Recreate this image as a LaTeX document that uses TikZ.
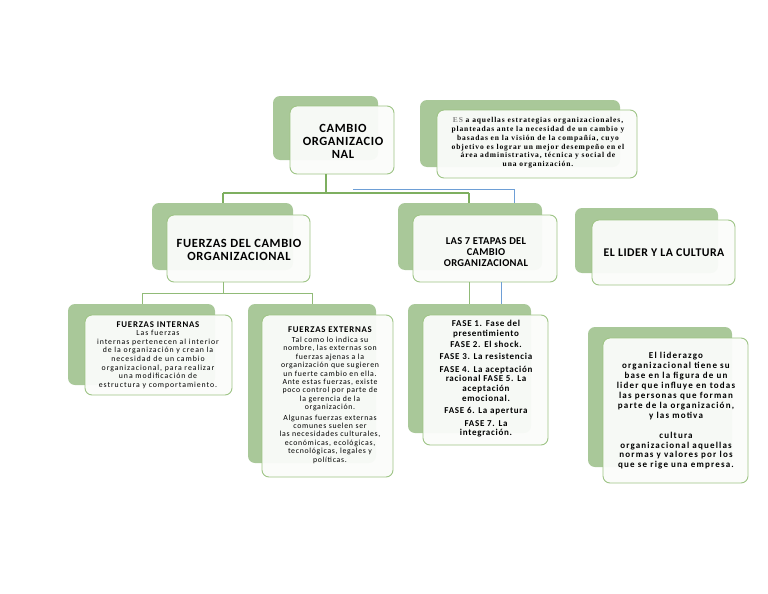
\documentclass[tikz,border=0pt]{standalone}
\usepackage{fontspec}
\setmainfont{Carlito}
\newfontfamily\serifbold{Liberation Serif}
\definecolor{backgreen}{HTML}{A9C899}
\definecolor{edgegreen}{HTML}{9EC485}
\definecolor{linegreen}{HTML}{7EAF60}
\definecolor{lineblue}{HTML}{6E9FD6}
\definecolor{frontfill}{HTML}{FBFCFA}
\newcommand{\ls}[1]{\addfontfeature{LetterSpace=#1}}
\tikzset{
  backbox/.style={fill=backgreen, draw=none, rounded corners=7pt, inner sep=0pt},
  frontbox/.style={fill=frontfill, fill opacity=0.95, text opacity=1, draw=edgegreen, line width=0.9pt, rounded corners=7pt, inner sep=0pt, align=center},
  gline/.style={draw=linegreen, line width=1.6pt},
  thinline/.style={draw=linegreen!85, line width=1pt},
  bline/.style={draw=lineblue, line width=0.8pt},
}
\begin{document}
\begin{tikzpicture}[x=1pt,y=-1pt]
\useasboundingbox (0,0) rectangle (768,594);
\fill[white] (0,0) rectangle (768,594);

% back boxes
\node[backbox, minimum width=105pt, minimum height=64pt] (bcambio) at (325.5,128) {};
\node[backbox, minimum width=200pt, minimum height=67pt] (bes) at (520,133.5) {};
\node[backbox, minimum width=141pt, minimum height=67pt] (bfuerzas) at (222.5,236.5) {};
\node[backbox, minimum width=144pt, minimum height=67pt] (betapas) at (470,236.5) {};
\node[backbox, minimum width=143pt, minimum height=65pt] (blider) at (646.5,240.5) {};
\node[backbox, minimum width=147pt, minimum height=81pt] (bint) at (141.5,344.5) {};
\node[backbox, minimum width=128pt, minimum height=159pt] (bext) at (312,383.5) {};
\node[backbox, minimum width=123pt, minimum height=129pt] (bfase) at (469.5,368.5) {};
\node[backbox, minimum width=144pt, minimum height=140pt] (bliderazgo) at (660,397) {};

% front boxes
\node[frontbox, minimum width=104pt, minimum height=68pt] (cambio) at (342,140) {};
\node[font=\bfseries\fontsize{12.5}{13}\selectfont\ls{5}, align=center] (tcambio) at (343,141) {CAMBIO\\ORGANIZACIO\\NAL};

\node[frontbox, minimum width=200pt, minimum height=68pt] (es) at (537,144) {};
\node[font=\serifbold\bfseries\fontsize{7.5}{8.8}\selectfont\ls{12}, align=center] (tes) at (538,143) {\textcolor{gray}{ES} a aquellas estrategias organizacionales,\\planteadas ante la necesidad de un cambio y\\basadas en la visión de la compañía, cuyo\\objetivo es lograr un mejor desempeño en el\\área administrativa, técnica y social de\\una organización.};

\node[frontbox, minimum width=143pt, minimum height=67pt] (fuerzas) at (238.5,248.5) {};
\node[font=\bfseries\fontsize{12.5}{12.5}\selectfont\ls{5}, align=center] (tfuerzas) at (239,250) {FUERZAS DEL CAMBIO\\ORGANIZACIONAL};

\node[frontbox, minimum width=144pt, minimum height=67pt] (etapas) at (485,248.5) {};
\node[font=\bfseries\fontsize{10.5}{10.8}\selectfont\ls{3}, align=center] (tetapas) at (486,252) {LAS 7 ETAPAS DEL\\CAMBIO\\ORGANIZACIONAL};

\node[frontbox, minimum width=143pt, minimum height=65pt] (lider) at (663.5,252.5) {};
\node[font=\bfseries\fontsize{11.8}{12}\selectfont\ls{4}] (tlider) at (664,253) {EL LIDER Y LA CULTURA};

\node[frontbox, minimum width=147pt, minimum height=80pt] (int) at (158.5,355) {};
\node[font=\fontsize{7.8}{8.6}\selectfont\ls{12}, align=center] (tint) at (158,355) {{\bfseries\fontsize{8.8}{8.6}\selectfont\ls{9}FUERZAS INTERNAS}\\Las fuerzas\\internas pertenecen al interior\\de la organización y crean la\\necesidad de un cambio\\organizacional, para realizar\\una modificación de\\estructura y comportamiento.};

\node[frontbox, minimum width=131pt, minimum height=162pt] (ext) at (327.5,396) {};
\node[font=\fontsize{7.8}{8.4}\selectfont\ls{9}, align=center] (text) at (330,395) {{\bfseries\fontsize{8.8}{8.4}\selectfont\ls{9}FUERZAS EXTERNAS}\\[1.5pt]Tal como lo indica su\\nombre, las externas son\\fuerzas ajenas a la\\organización que sugieren\\un fuerte cambio en ella.\\Ante estas fuerzas, existe\\poco control por parte de\\la gerencia de la\\organización.\\[2pt]Algunas fuerzas externas\\comunes suelen ser\\las necesidades culturales,\\económicas, ecológicas,\\tecnológicas, legales y\\políticas.};

\node[frontbox, minimum width=125pt, minimum height=130pt] (fase) at (485.5,380) {};
\node[font=\bfseries\fontsize{9}{9.6}\selectfont\ls{8}, align=center] (tfase) at (486,379) {FASE 1. Fase del\\presentimiento\\[1pt]FASE 2. El shock.\\[3pt]FASE 3. La resistencia\\[3pt]FASE 4. La aceptación\\racional FASE 5. La\\aceptación\\emocional.\\[3pt]FASE 6. La apertura\\[3pt]FASE 7. La\\integración.};

\node[frontbox, minimum width=145pt, minimum height=145pt] (liderazgo) at (675.5,410.5) {};
\node[font=\bfseries\fontsize{9}{9.9}\selectfont\ls{13}, align=center] (tliderazgo) at (676,411) {El liderazgo\\organizacional tiene su\\base en la figura de un\\lider que influye en todas\\las personas que forman\\parte de la organización,\\y las motiva\\[9.9pt]cultura\\organizacional aquellas\\normas y valores por los\\que se rige una empresa.};

% connectors
\coordinate (j1) at (326,193);
\draw[gline] (cambio.south -| j1) -- (j1);
\draw[gline] (223,193) -- (469,193);
\draw[gline] (223,193) -- (bfuerzas.north -| 223,0);
\draw[gline] (469,193) -- (betapas.north -| 469,0);
\draw[bline] (353,189) -- (514,189) -- (betapas.north -| 514,0);

\draw[thinline] (fuerzas.south -| 223,0) -- (223,293);
\draw[thinline] (142,293) -- (312,293);
\draw[thinline] (142,293) -- (bint.north -| 142,0);
\draw[thinline] (312,293) -- (bext.north -| 312,0);

\draw[thinline] (etapas.south -| 469,0) -- (bfase.north -| 469,0);
\draw[bline] (etapas.south -| 501,0) -- (bfase.north -| 501,0);
\end{tikzpicture}
\end{document}
